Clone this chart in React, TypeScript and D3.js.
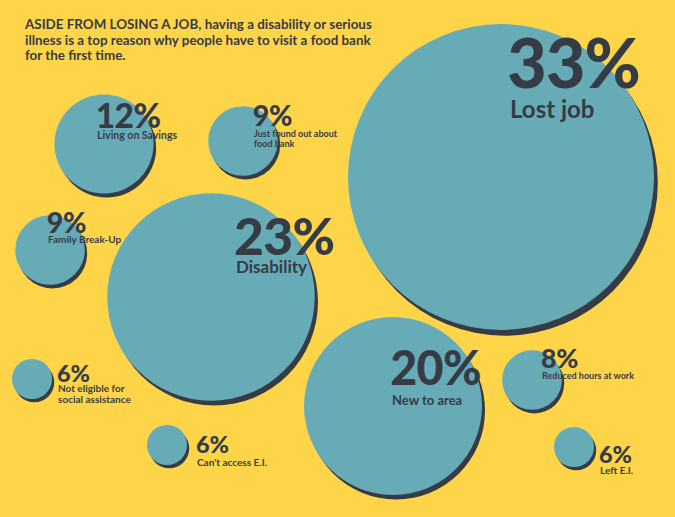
import React from "react";
import * as d3 from "d3";

// ---- data ----
const reasons = [
  "Lost job",
  "Disability",
  "New to area",
  "Living on Savings",
  "Just found out about|food bank",
  "Family Break-Up",
  "Not eligible for|social assistance",
  "Can't access E.I.",
  "Reduced hours at work",
  "Left E.I.",
];
const percents = [33, 23, 20, 12, 9, 9, 6, 6, 8, 6];
const titleLines = [
  "ASIDE FROM LOSING A JOB, having a disability or serious",
  "illness is a top reason why people have to visit a food bank",
  "for the first time.",
];

// ---- layout (bubble centres and label anchors) ----
const bubbleCentres: [number, number][] = [
  [501, 177],
  [211, 297],
  [393, 406],
  [104, 144],
  [243, 141],
  [50, 250],
  [32, 379],
  [167, 445],
  [532, 380],
  [574, 447],
];
const labelAnchors: [number, number, number, number][] = [
  // x, percent baseline, label first baseline, label font size
  [510, 88, 118, 24],
  [236, 255, 273, 17],
  [392, 385, 405, 13],
  [97, 128, 139, 10.5],
  [254, 126, 137, 9],
  [48, 233, 243, 10],
  [58, 382, 392, 10],
  [197, 453, 466, 10],
  [542, 368, 379, 9],
  [600, 463, 474, 10],
];

const W = 675;
const H = 517;
const BG = "#fed449";
const TEAL = "#67abb7";
const DARK = "#363c46";
const FONT = "Lato, 'Open Sans', sans-serif";

export default function App() {
  const rScale = d3.scaleLinear().domain([6, 33]).range([20, 153]);
  const pctFont = d3.scaleLinear().domain([6, 33]).range([23.5, 68]);

  const items = percents.map((p, i) => ({
    p,
    label: reasons[i].split("|"),
    cx: bubbleCentres[i][0],
    cy: bubbleCentres[i][1],
    r: rScale(p),
    tx: labelAnchors[i][0],
    py: labelAnchors[i][1],
    ly: labelAnchors[i][2],
    lf: labelAnchors[i][3],
    pf: pctFont(p),
  }));

  return (
    <svg
      width={W}
      height={H}
      style={{ position: "absolute", left: 0, top: 0, display: "block" }}
      fontFamily={FONT}
    >
      <rect width={W} height={H} fill={BG} />
      {items.map((d, i) => {
        const off = 2.5 + d.r * 0.015;
        return (
          <g key={"c" + i}>
            <circle cx={d.cx + off * 0.8} cy={d.cy + off * 1.2} r={d.r} fill={DARK} />
            <circle cx={d.cx} cy={d.cy} r={d.r} fill={TEAL} />
          </g>
        );
      })}
      {items.map((d, i) => (
        <g key={"t" + i} fill={DARK} fontWeight={700}>
          <text
            x={d.tx - d.pf * 0.04}
            y={d.py}
            fontSize={d.pf}
            fontWeight={900}
            letterSpacing={-d.pf * 0.012}
          >
            {d.p}%
          </text>
          {d.label.map((l, j) => (
            <text key={j} x={d.tx} y={d.ly + j * d.lf * 1.1} fontSize={d.lf}>
              {l}
            </text>
          ))}
        </g>
      ))}
      <g fill={DARK} fontWeight={700} fontSize={13.4}>
        {titleLines.map((t, i) => (
          <text key={i} x={25} y={29 + i * 15.5}>
            {t}
          </text>
        ))}
      </g>
    </svg>
  );
}
